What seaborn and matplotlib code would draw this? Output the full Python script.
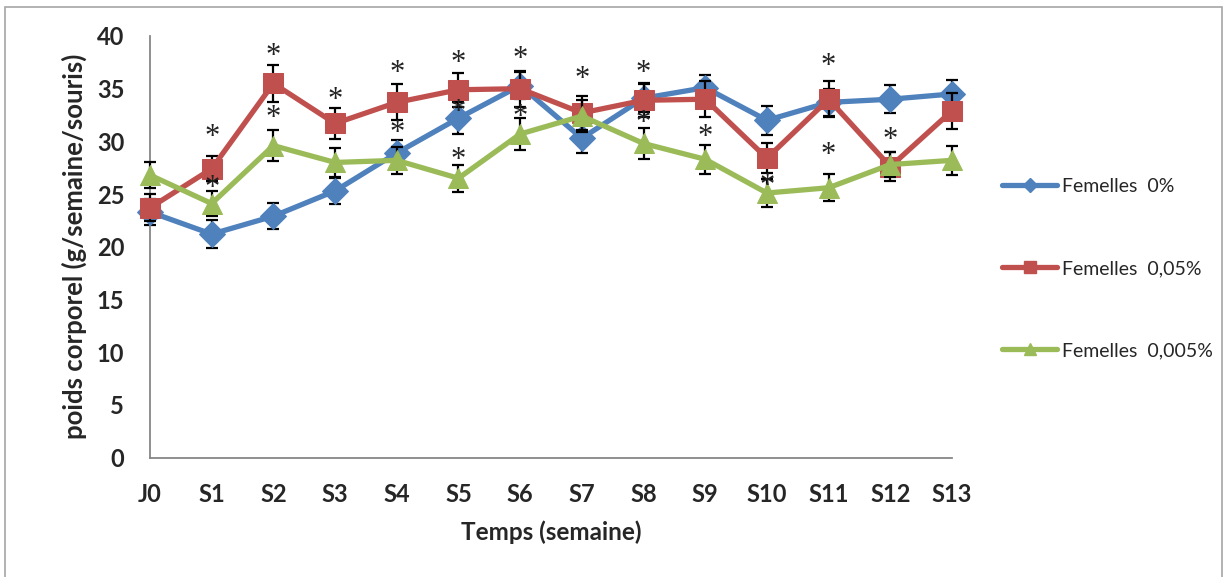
import numpy as np
import pandas as pd
import matplotlib
matplotlib.use("Agg")
import matplotlib.pyplot as plt
import seaborn as sns
from matplotlib.lines import Line2D
from matplotlib.patches import Rectangle

categories = ["J0", "S1", "S2", "S3", "S4", "S5", "S6", "S7", "S8", "S9", "S10", "S11", "S12", "S13"]

f0_mean = [23.3, 21.2, 22.9, 25.3, 28.9, 32.2, 35.3, 30.3, 34.1, 35.1, 32.0, 33.7, 34.0, 34.5]
f0_err = [1.2, 1.3, 1.25, 1.2, 1.2, 1.5, 1.3, 1.4, 1.3, 1.2, 1.35, 1.3, 1.35, 1.3]

f005_mean = [23.7, 27.4, 35.5, 31.7, 33.7, 34.9, 35.0, 32.7, 33.9, 34.0, 28.4, 34.0, 27.6, 32.9]
f005_err = [1.3, 1.2, 1.75, 1.45, 1.7, 1.6, 1.7, 1.6, 1.6, 1.7, 1.4, 1.7, 1.4, 1.7]

f0005_mean = [26.8, 24.1, 29.6, 28.0, 28.2, 26.5, 30.7, 32.4, 29.8, 28.3, 25.1, 25.6, 27.8, 28.2]
f0005_err = [1.25, 1.2, 1.5, 1.4, 1.3, 1.3, 1.5, 1.5, 1.45, 1.4, 1.3, 1.3, 1.2, 1.4]

series_labels = ["Femelles  0%", "Femelles  0,05%", "Femelles  0,005%"]

star_cat = ["S1", "S1", "S2", "S2", "S3", "S4", "S4", "S5", "S5", "S5", "S6", "S6",
            "S7", "S8", "S8", "S9", "S10", "S11", "S11", "S12"]
star_y = [30.4, 25.5, 38.1, 32.2, 33.9, 36.4, 30.7, 37.4, 32.7, 28.2, 37.8, 32.3,
          35.9, 36.4, 31.7, 30.4, 25.7, 37.1, 28.7, 30.1]

y_ticks = [0, 5, 10, 15, 20, 25, 30, 35, 40]

colors = ["#4F81BD", "#C0504D", "#9BBB59"]
markers = ["D", "s", "^"]
msizes = [13, 14.5, 15]

sns.set_style("white")
plt.rcParams["font.family"] = ["Lato", "DejaVu Sans"]

W, H = 1227, 577
fig = plt.figure(figsize=(W / 100, H / 100), dpi=100)
ax = fig.add_axes([150 / W, 1 - 457.5 / H, (952 - 150) / W, (457.5 - 36) / H])

x = np.arange(len(categories))
means = [f0_mean, f005_mean, f0005_mean]
errs = [f0_err, f005_err, f0005_err]

for i in range(3):
    df = pd.DataFrame({"x": x, "y": means[i]})
    sns.lineplot(data=df, x="x", y="y", ax=ax, color=colors[i], linewidth=3.8,
                 marker=markers[i], markersize=msizes[i], markeredgecolor=colors[i],
                 zorder=3 + i * 2, clip_on=False, legend=False)
    eb = ax.errorbar(x, means[i], yerr=errs[i], fmt="none", ecolor="black",
                     elinewidth=1.6, capsize=4.3, capthick=1.6, zorder=2 + i * 2)
    for art in list(eb.lines[1]) + list(eb.lines[2]):
        art.set_clip_on(False)

for c, yv in zip(star_cat, star_y):
    ax.text(categories.index(c), yv, "*", ha="center", va="center",
            fontsize=22, family="Liberation Serif", color="#222222", zorder=10)

ax.set_xlim(0, 13)
ax.set_ylim(0, 40)
ax.set_yticks(y_ticks)
ax.set_yticklabels([str(t) for t in y_ticks], fontsize=17, fontweight="bold")
ax.set_xticks(x)
ax.set_xticklabels(categories, fontsize=17, fontweight="bold")
ax.tick_params(axis="y", length=0, pad=18.5)
ax.tick_params(axis="x", length=0, pad=18)
ax.set_xlabel("Temps (semaine)", fontsize=17.5, fontweight="bold", labelpad=11)
ax.set_ylabel("poids corporel (g/semaine/souris)", fontsize=18.5, fontweight="bold", labelpad=7)

for s in ["top", "right"]:
    ax.spines[s].set_visible(False)
for s in ["left", "bottom"]:
    ax.spines[s].set_color("#868686")
    ax.spines[s].set_linewidth(1.3)

handles = [Line2D([0], [0], color=colors[i], linewidth=3.8, marker=markers[i],
                  markersize=msizes[i] * 0.55, markeredgecolor=colors[i]) for i in range(3)]
fig.legend(handles, series_labels, loc="upper left", bbox_to_anchor=(1002 / W, 1 - 178 / H),
           frameon=False, fontsize=14, handlelength=2.83, handletextpad=0.26,
           labelspacing=3.35, borderaxespad=0, borderpad=0)

fig.patches.append(Rectangle((5 / W, -0.01), (1222 - 5) / W, 1 - 7 / H + 0.01,
                             transform=fig.transFigure, fill=False,
                             edgecolor="#A6A6A6", linewidth=1.2))

fig.savefig("out.png", dpi=100)
